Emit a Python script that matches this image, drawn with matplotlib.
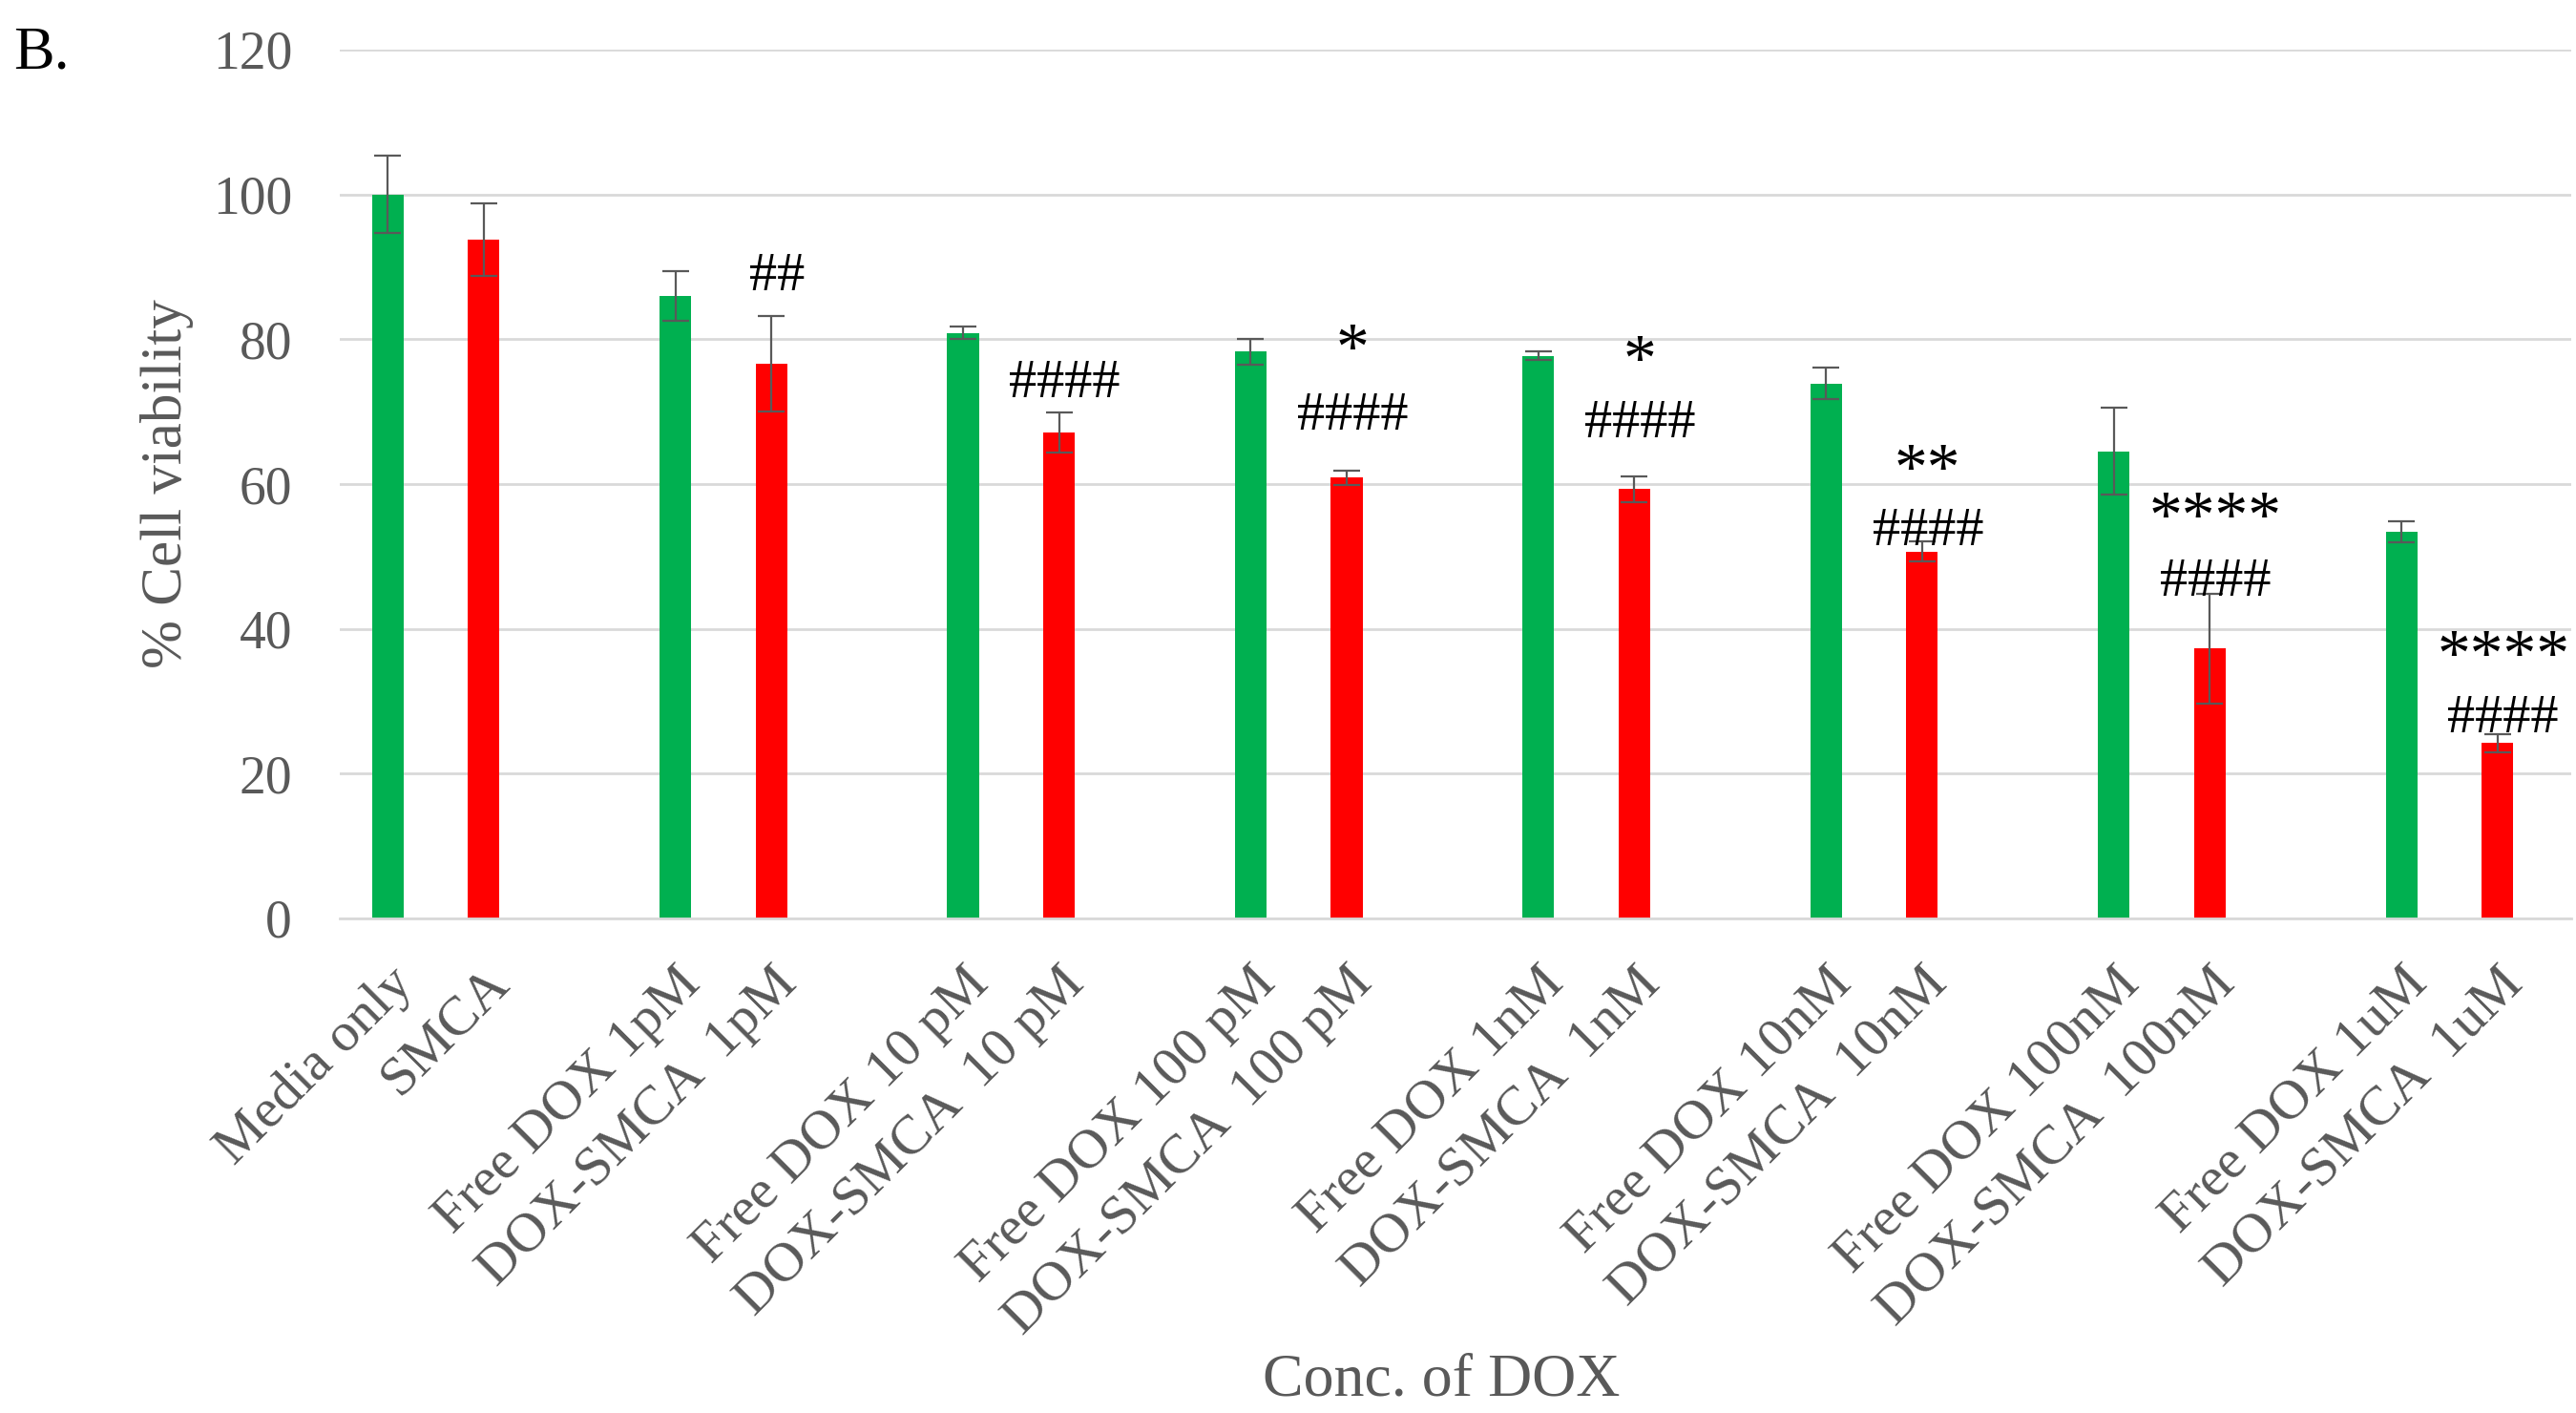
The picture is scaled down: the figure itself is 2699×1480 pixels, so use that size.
import matplotlib
matplotlib.use("Agg")
import matplotlib.pyplot as plt
import numpy as np

# ---- data ----
groups = ["Media only", "1pM", "10 pM", "100 pM", "1nM", "10nM", "100nM", "1uM"]
green_labels = ["Media only", "Free DOX 1pM", "Free DOX 10 pM", "Free DOX 100 pM",
                "Free DOX 1nM", "Free DOX 10nM", "Free DOX 100nM", "Free DOX 1uM"]
red_labels = ["SMCA", "DOX-SMCA  1pM", "DOX-SMCA  10 pM", "DOX-SMCA  100 pM",
              "DOX-SMCA  1nM", "DOX-SMCA  10nM", "DOX-SMCA  100nM", "DOX-SMCA  1uM"]
green_vals = [100.0, 86.0, 80.9, 78.3, 77.7, 73.9, 64.5, 53.4]
green_err = [5.3, 3.4, 0.8, 1.8, 0.6, 2.2, 6.0, 1.5]
red_vals = [93.8, 76.6, 67.1, 60.9, 59.3, 50.7, 37.3, 24.2]
red_err = [5.0, 6.6, 2.8, 1.0, 1.8, 1.4, 7.6, 1.2]

# significance marks above red bars: (group index, text, y centre)
star_marks = [(3, "*", 80.4), (4, "*", 78.8), (5, "**", 63.7), (6, "****", 57.1), (7, "****", 38.0)]
hash_marks = [(1, "##", 89.4), (2, "####", 74.6), (3, "####", 70.1), (4, "####", 69.0),
              (5, "####", 54.1), (6, "####", 47.2), (7, "####", 28.3)]

yticks = [0, 20, 40, 60, 80, 100, 120]

# ---- style ----
W, H = 2699, 1480
DPI = 100
GREEN = "#00B050"
RED = "#FF0000"
GRAY = "#595959"
GRID = "#d9d9d9"
SERIF = ["Liberation Serif", "DejaVu Serif"]
plt.rcParams["font.family"] = SERIF

fig = plt.figure(figsize=(W / DPI, H / DPI), dpi=DPI)
ax = fig.add_axes([356 / W, 1 - 962 / H, (2694 - 356) / W, (962 - 52) / H])

n = len(groups)
gx = np.arange(n) * 3.0
rx = gx + 1.0
bw = 0.33

ekw = dict(ecolor=GRAY, elinewidth=1.6, capsize=10, capthick=1.6)
ax.bar(gx, green_vals, width=bw, color=GREEN, yerr=green_err, error_kw=ekw, zorder=2)
ax.bar(rx, red_vals, width=bw, color=RED, yerr=red_err, error_kw=ekw, zorder=2)

for i, txt, y in star_marks:
    ax.annotate(txt, (rx[i] + 0.06, y), xytext=(0, -12), textcoords="offset points",
                ha="center", va="center", fontsize=50, color="black", zorder=4)
for i, txt, y in hash_marks:
    ax.annotate(txt, (rx[i] + 0.06, y), xytext=(0, -4), textcoords="offset points",
                ha="center", va="center", fontsize=42, color="black", zorder=4)

ax.set_xlim(-0.5, 22.77)
ax.set_ylim(0, 120)
ax.set_yticks(yticks)
ax.tick_params(axis="y", length=0, pad=36, labelsize=40, labelcolor=GRAY)

pos = np.ravel(np.column_stack([gx, rx]))
labs = [l for pair in zip(green_labels, red_labels) for l in pair]
ax.set_xticks(pos)
ax.set_xticklabels(labs, rotation=45, ha="right", va="top", rotation_mode="anchor",
                   fontsize=42, color=GRAY)
ax.tick_params(axis="x", length=0, pad=30)

ax.yaxis.grid(True, color=GRID, linewidth=2.0)
ax.set_axisbelow(True)
for s in ["top", "right", "left"]:
    ax.spines[s].set_visible(False)
ax.spines["bottom"].set_color(GRID)
ax.spines["bottom"].set_linewidth(2.0)

ax.set_ylabel("% Cell viability", fontsize=44, color=GRAY)
ax.yaxis.set_label_coords(-0.0654, 0.5)
ax.set_xlabel("Conc. of DOX", fontsize=46, color=GRAY)
ax.xaxis.set_label_coords(0.4936, -0.501)

fig.text(14 / W, 1 - 72 / H, "B.", fontsize=46, color="black", ha="left", va="baseline")

fig.savefig("out.png", dpi=DPI, facecolor="white")
